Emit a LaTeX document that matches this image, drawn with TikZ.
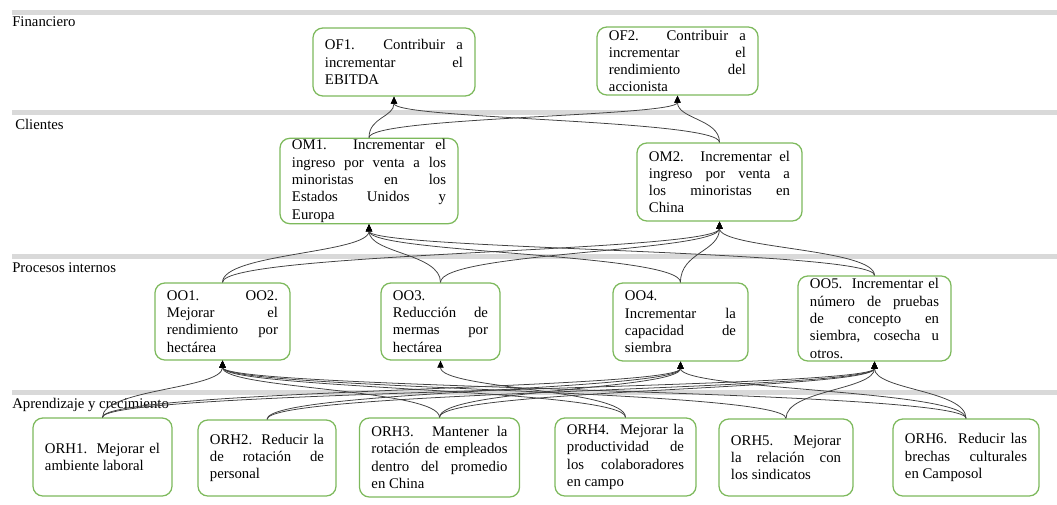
\documentclass[tikz,border=0pt]{standalone}
\usepackage{fontspec}
\setmainfont{Liberation Serif}
\usepackage{tikz}
\usetikzlibrary{
  arrows.meta,
  calc,
}
\definecolor{objgreen}{HTML}{7DB95C}
\definecolor{bandgray}{HTML}{D9D9D9}
\definecolor{linkgray}{HTML}{404040}
\hyphenpenalty=10000

\begin{document}
\begin{tikzpicture}[
    x=0.025cm, y=-0.025cm,
    obj/.style={draw=objgreen, line width=0.9pt, rounded corners=7pt,
                align=justify, inner xsep=0.3cm, inner ysep=1pt,
                font=\fontsize{10.5}{12.3}\selectfont},
    band/.style={fill=bandgray, draw=none},
    layer/.style={anchor=west, inner sep=0pt,
                  font=\fontsize{10.5}{12.3}\selectfont},
    link/.style={draw=linkgray, line width=0.55pt,
                 -{Triangle[length=5pt,width=4.5pt,black]},
                 to path={.. controls ($(\tikztostart)!0.5!(\tikztostart|-\tikztotarget)$)
                          and ($(\tikztotarget)!0.5!(\tikztotarget|-\tikztostart)$)
                          .. (\tikztotarget) \tikztonodes}},
  ]
  \useasboundingbox (0,0) rectangle (1057,505);

  % perspective bands
  \fill[band] (12,10)  rectangle (1057,15);
  \fill[band] (12,110) rectangle (1057,115);
  \fill[band] (12,254) rectangle (1057,259);
  \fill[band] (12,390) rectangle (1057,395);

  \node[layer] (fin) at (12,22)  {Financiero};
  \node[layer] (cli) at (15,124) {Clientes};
  \node[layer] (pro) at (12,268) {Procesos internos};
  \node[layer] (apr) at (12,405) {Aprendizaje y crecimiento};

  % objetivos
  \node[obj, text width=3.45cm, minimum height=1.7cm] (of1) at (394,62)
    {OF1. Contribuir a\linebreak incrementar el\linebreak EBITDA};
  \node[obj, text width=3.425cm, minimum height=1.7cm] (of2) at (677.5,61)
    {OF2. Contribuir a\linebreak incrementar el\linebreak rendimiento del\linebreak accionista};

  \node[obj, text width=3.85cm, minimum height=1.9cm] (om1) at (369,181)
    {OM1. Incrementar el\linebreak ingreso por venta a los\linebreak minoristas en los\linebreak Estados Unidos y\linebreak Europa};
  \node[obj, text width=3.525cm, minimum height=1.95cm] (om2) at (719.5,182)
    {OM2. Incrementar el\linebreak ingreso por venta a\linebreak los minoristas en\linebreak China};

  \node[obj, text width=2.775cm, minimum height=1.925cm] (oo1) at (222.5,321.5)
    {OO1. OO2.\linebreak Mejorar el\linebreak rendimiento por\linebreak hectárea};
  \node[obj, text width=2.375cm, minimum height=1.925cm] (oo3) at (440.5,321.5)
    {OO3.\linebreak Reducción de\linebreak mermas por\linebreak hectárea};
  \node[obj, text width=2.775cm, minimum height=1.95cm] (oo4) at (680.5,322)
    {OO4.\linebreak Incrementar la\linebreak capacidad de\linebreak siembra};
  \node[obj, text width=3.225cm, minimum height=2.125cm] (oo5) at (874.5,318.5)
    {OO5. Incrementar el\linebreak número de pruebas\linebreak de concepto en\linebreak siembra, cosecha u\linebreak otros.};

  \node[obj, text width=2.875cm, minimum height=1.95cm] (orh1) at (102.5,457)
    {ORH1. Mejorar el\linebreak ambiente laboral};
  \node[obj, text width=2.85cm, minimum height=1.9cm] (orh2) at (267,458)
    {ORH2. Reducir la\linebreak de rotación de\linebreak personal};
  \node[obj, text width=3.4cm, minimum height=1.975cm] (orh3) at (439.5,457.5)
    {ORH3. Mantener la\linebreak rotación de empleados\linebreak dentro del promedio\linebreak en China};
  \node[obj, text width=2.925cm, minimum height=1.95cm] (orh4) at (625.5,457)
    {ORH4. Mejorar la\linebreak productividad de\linebreak los colaboradores\linebreak en campo};
  \node[obj, text width=2.75cm, minimum height=1.925cm] (orh5) at (786,457.5)
    {ORH5. Mejorar\linebreak la relación con\linebreak los sindicatos};
  \node[obj, text width=3.05cm, minimum height=1.925cm] (orh6) at (966,457.5)
    {ORH6. Reducir las\linebreak brechas culturales\linebreak en Camposol};

  % relaciones causa-efecto
  \foreach \a/\b in {om1/of1, om1/of2, om2/of1, om2/of2,
                     oo1/om1, oo1/om2, oo3/om1, oo3/om2,
                     oo4/om1, oo4/om2, oo5/om1, oo5/om2,
                     orh1/oo1, orh1/oo4, orh1/oo5,
                     orh2/oo4, orh2/oo5,
                     orh3/oo1, orh3/oo4, orh3/oo5,
                     orh4/oo1, orh4/oo3,
                     orh5/oo1, orh5/oo5,
                     orh6/oo1, orh6/oo4, orh6/oo5}
    \draw[link] (\a.north) to (\b.south);
\end{tikzpicture}
\end{document}
